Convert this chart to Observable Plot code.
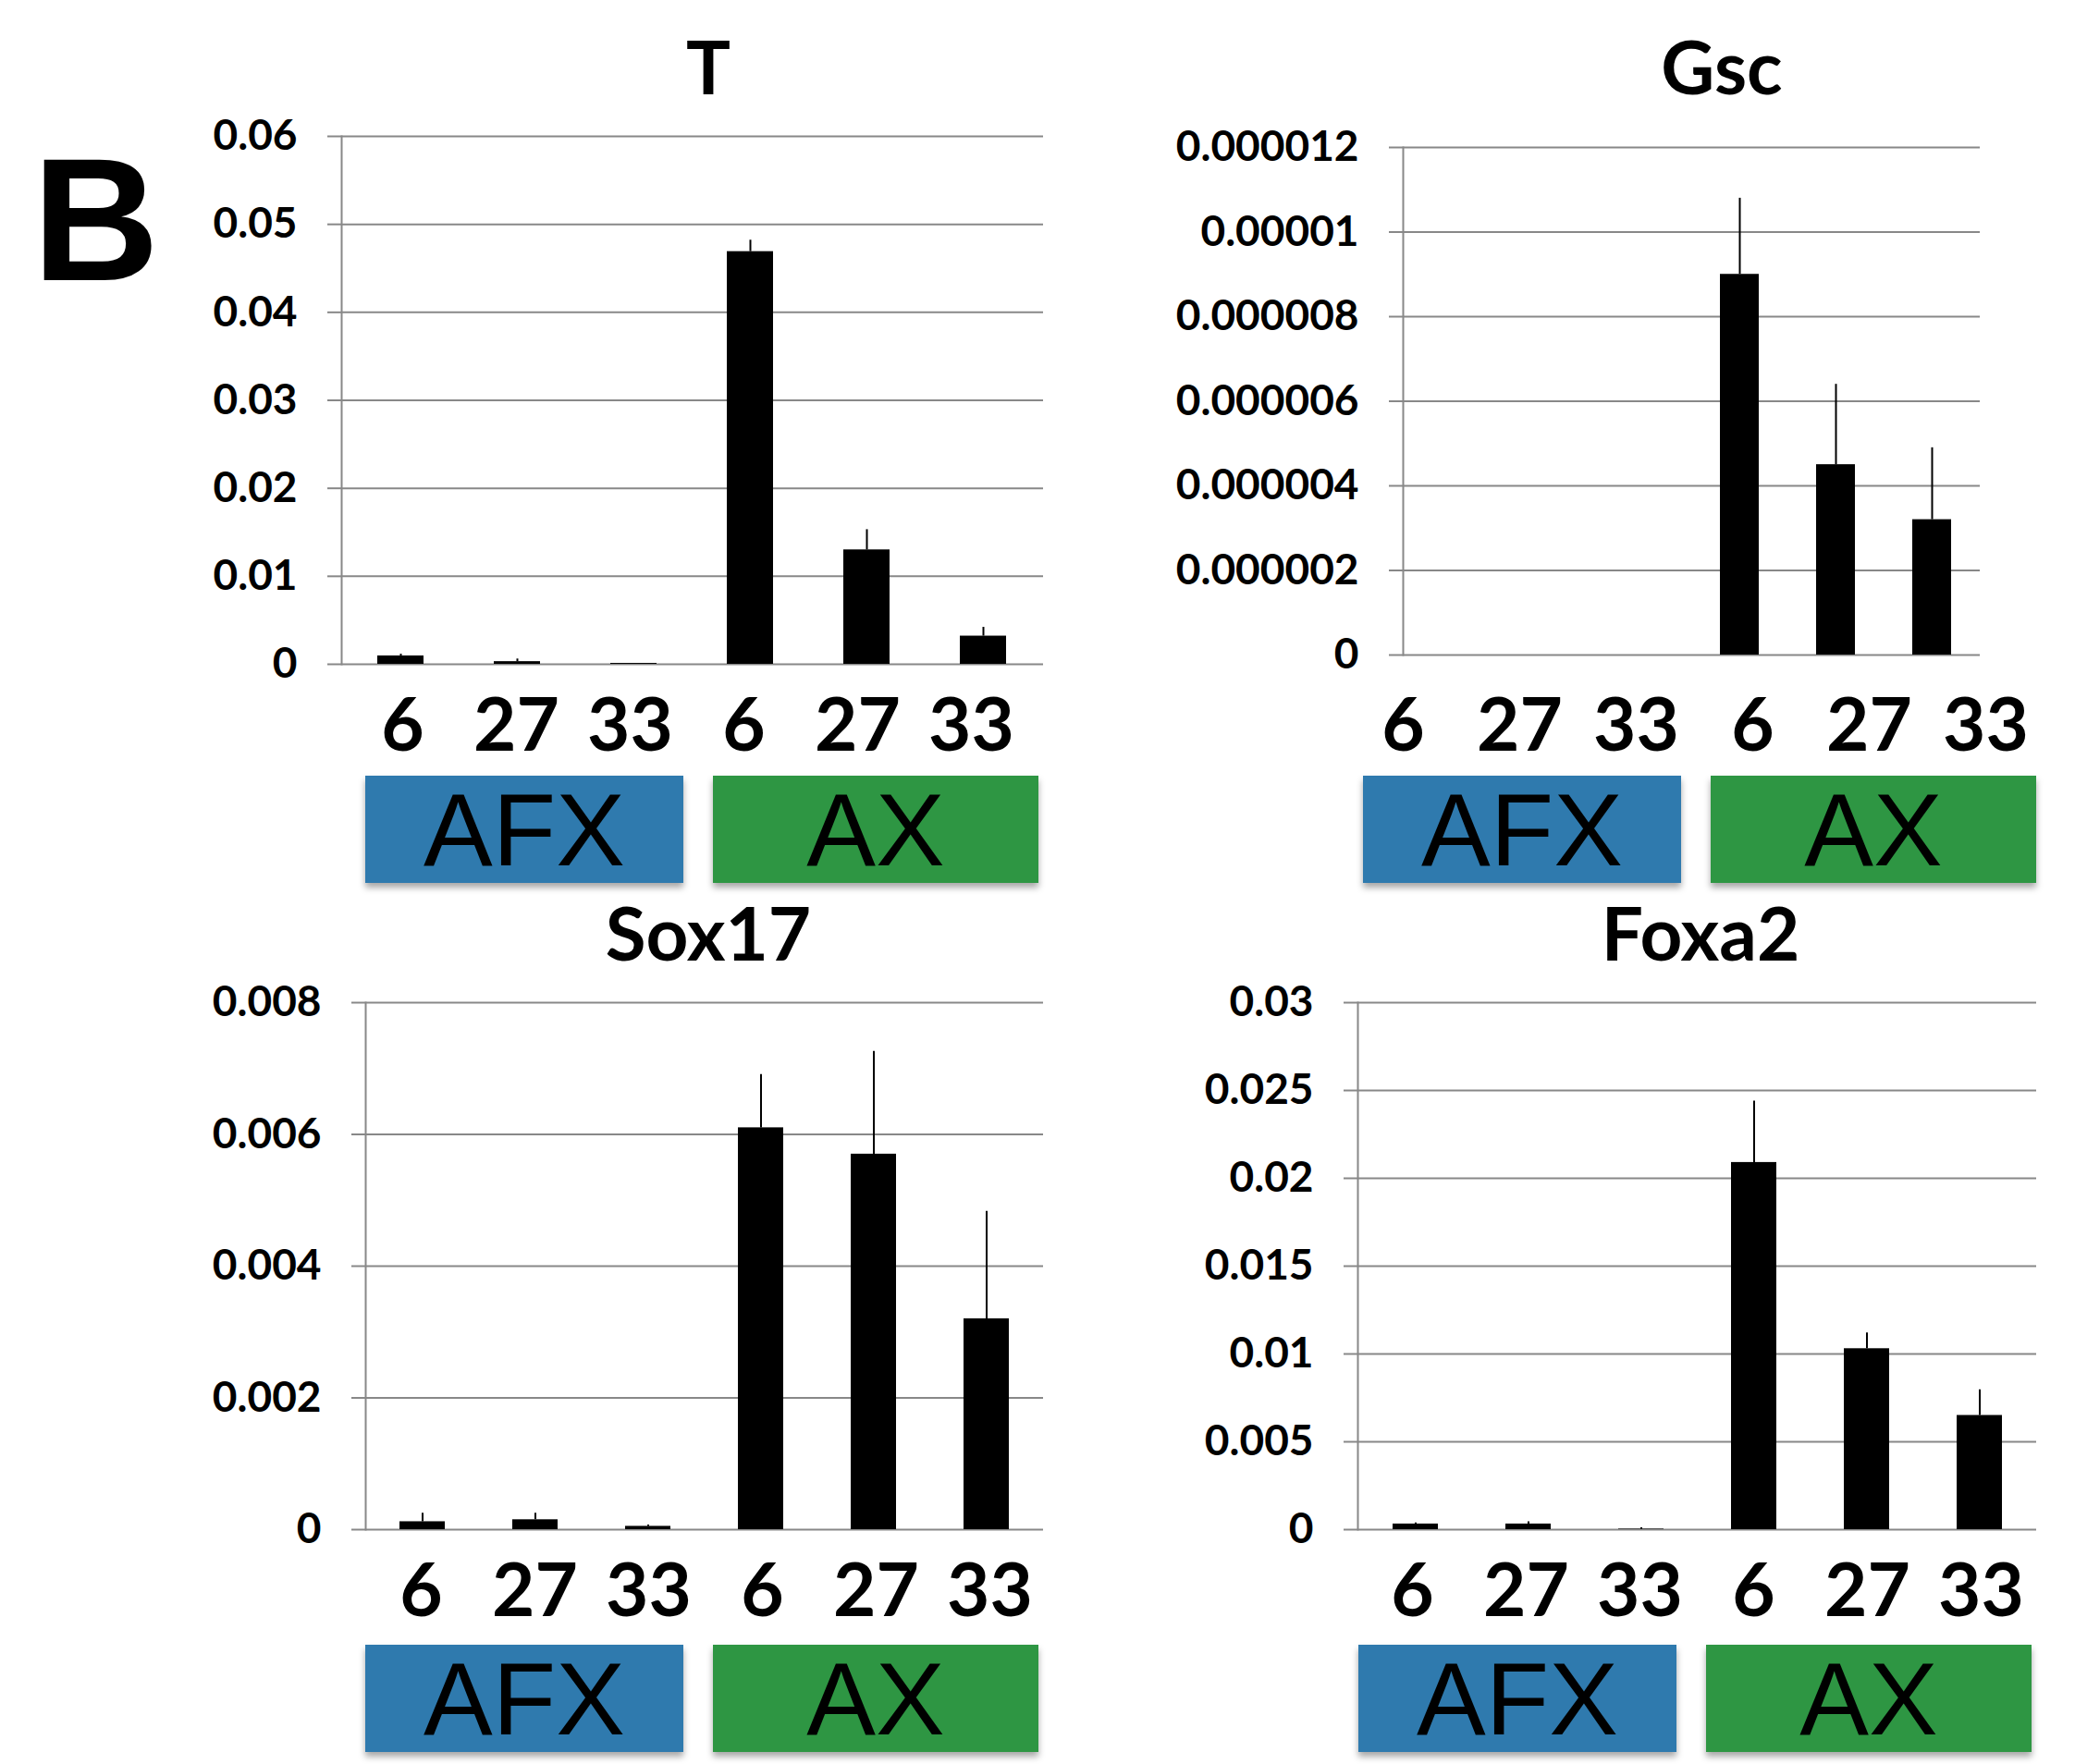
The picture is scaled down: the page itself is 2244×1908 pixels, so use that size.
<!DOCTYPE html>
<html>
<head>
<meta charset="utf-8">
<script src="https://cdn.jsdelivr.net/npm/d3@7"></script>
<script src="https://cdn.jsdelivr.net/npm/@observablehq/plot@0.6"></script>
<style>
html, body { margin: 0; padding: 0; background: #fff; }
#root { position: relative; width: 2244px; height: 1908px; overflow: hidden; background: #fff; }
#root > * { position: absolute; }
.box { display: flex; align-items: center; justify-content: center;
  font-family: "Liberation Sans", Arial, sans-serif; font-size: 112px; color: #000;
  box-shadow: 0 5px 7px rgba(0,0,0,0.35); }
</style>
</head>
<body>
<div id="root"></div>
<script>
// ---------------- data ----------------
const stages = ["6", "27", "33"];
const groups = ["AFX", "AX"];
const groupColors = ["#2f7aae", "#2e9643"];
const panelLetter = "B";
const genes = ["T", "Gsc", "Sox17", "Foxa2"];

const meanT = [0.00095, 0.0003, 0.0001, 0.0469, 0.0130, 0.0032];
const sdT   = [0.0002, 0.0003, 0.0, 0.0013, 0.0023, 0.0010];

const meanGsc = [0, 0, 0, 0.0000090, 0.0000045, 0.0000032];
const sdGsc   = [0, 0, 0, 0.0000018, 0.0000019, 0.0000017];

const meanSox17 = [0.00012, 0.00015, 0.00005, 0.0061, 0.0057, 0.0032];
const sdSox17   = [0.00013, 0.0001, 0.00002, 0.00081, 0.00156, 0.00163];

const meanFoxa2 = [0.00032, 0.00032, 0.00003, 0.0209, 0.0103, 0.0065];
const sdFoxa2   = [0.00006, 0.00013, 0.00008, 0.0035, 0.0009, 0.00146];

const ticksT     = [0, 0.01, 0.02, 0.03, 0.04, 0.05, 0.06];
const ticksGsc   = [0, 0.000002, 0.000004, 0.000006, 0.000008, 0.00001, 0.000012];
const ticksSox17 = [0, 0.002, 0.004, 0.006, 0.008];
const ticksFoxa2 = [0, 0.005, 0.01, 0.015, 0.02, 0.025, 0.03];

// ---------------- layout ----------------
const panels = [
  { gene: genes[0], mean: meanT, sd: sdT, ticks: ticksT,
    frame: { left: 369, right: 1128, top: 147, bottom: 718 },
    title: { x: 766, y: 102 }, labels: { first: 434, last: 1051, cy: 786 }, boxes: { left: 395, top: 839 } },
  { gene: genes[1], mean: meanGsc, sd: sdGsc, ticks: ticksGsc,
    frame: { left: 1517, right: 2141, top: 159, bottom: 708 },
    title: { x: 1862, y: 102 }, labels: { first: 1517, last: 2147, cy: 786 }, boxes: { left: 1474, top: 839 } },
  { gene: genes[2], mean: meanSox17, sd: sdSox17, ticks: ticksSox17,
    frame: { left: 395, right: 1128, top: 1084, bottom: 1654 },
    title: { x: 766, y: 1039 }, labels: { first: 455, last: 1070, cy: 1722 }, boxes: { left: 395, top: 1779 } },
  { gene: genes[3], mean: meanFoxa2, sd: sdFoxa2, ticks: ticksFoxa2,
    frame: { left: 1468, right: 2202, top: 1084, bottom: 1654 },
    title: { x: 1839, y: 1039 }, labels: { first: 1525, last: 2144, cy: 1722 }, boxes: { left: 1469, top: 1779 } }
];
const boxW = [344, 352], boxGap = 32, boxH = 116;

const root = document.getElementById("root");
const keys = groups.flatMap(g => stages.map(s => g + "-" + s));
const fmt = d => d === 0 ? "0" : String(d);

function place(el, left, top) {
  el.style.position = "absolute";
  el.style.left = left + "px";
  el.style.top = top + "px";
  root.appendChild(el);
}

for (const p of panels) {
  const data = keys.map((k, i) => ({
    key: k, group: k.split("-")[0], stage: k.split("-")[1],
    mean: p.mean[i], hi: p.mean[i] + p.sd[i]
  }));
  const f = p.frame;
  const mL = 270, mR = 20, mT = 30, mB = 30;
  const chart = Plot.plot({
    width: (f.right - f.left) + mL + mR,
    height: (f.bottom - f.top) + mT + mB,
    marginLeft: mL, marginRight: mR, marginTop: mT, marginBottom: mB,
    style: { fontFamily: "Lato, 'Open Sans', sans-serif", background: "transparent", overflow: "visible" },
    x: { type: "band", domain: keys, paddingInner: 0.6, paddingOuter: 0.3, axis: null },
    y: { domain: [p.ticks[0], p.ticks[p.ticks.length - 1]] },
    marks: [
      Plot.gridY(p.ticks, { stroke: "#888888", strokeOpacity: 1, strokeWidth: 2 }),
      Plot.axisY(p.ticks, { tickSize: 15, tickPadding: 33, stroke: "#888888", strokeWidth: 2,
        fill: "#000", fontSize: 46, fontWeight: "bold", tickFormat: fmt, label: null }),
      Plot.frame({ anchor: "left", stroke: "#888888", strokeWidth: 2 }),
      Plot.ruleX(data.filter(d => d.hi > d.mean), { x: "key", y1: "mean", y2: "hi", stroke: "#000", strokeWidth: 2 }),
      Plot.barY(data, { x: "key", y: "mean", fill: "#000" })
    ]
  });
  place(chart, f.left - mL, f.top - mT);

  // category label strip
  const L = p.labels, pad = 100;
  const strip = Plot.plot({
    width: (L.last - L.first) + 2 * pad, height: 100,
    marginLeft: pad, marginRight: pad, marginTop: 0, marginBottom: 0,
    style: { fontFamily: "Lato, 'Open Sans', sans-serif", background: "transparent", overflow: "visible" },
    x: { type: "point", domain: keys, padding: 0, axis: null },
    marks: [
      Plot.text(data, { x: "key", text: "stage", frameAnchor: "middle", fontSize: 80, fontWeight: "bold", fill: "#000" })
    ]
  });
  place(strip, L.first - pad, L.cy - 50);

  // group boxes
  let x = p.boxes.left;
  groups.forEach((g, i) => {
    const b = document.createElement("div");
    b.className = "box";
    b.textContent = g;
    b.style.width = boxW[i] + "px";
    b.style.height = boxH + "px";
    b.style.background = groupColors[i];
    place(b, x, p.boxes.top);
    x += boxW[i] + boxGap;
  });
}

// titles and panel letter
const ns = "http://www.w3.org/2000/svg";
const over = document.createElementNS(ns, "svg");
over.setAttribute("width", 2244);
over.setAttribute("height", 1908);
over.style.pointerEvents = "none";
function addText(str, x, y, size, family, anchor) {
  const t = document.createElementNS(ns, "text");
  t.setAttribute("x", x); t.setAttribute("y", y);
  t.setAttribute("font-size", size);
  t.setAttribute("font-family", family);
  t.setAttribute("font-weight", "bold");
  t.setAttribute("text-anchor", anchor);
  t.textContent = str;
  over.appendChild(t);
}
addText(panelLetter, 35, 303, 190, "'Liberation Sans', Arial, sans-serif", "start");
for (const p of panels) addText(p.gene, p.title.x, p.title.y, 80, "Lato, 'Open Sans', sans-serif", "middle");
place(over, 0, 0);
</script>
</body>
</html>
